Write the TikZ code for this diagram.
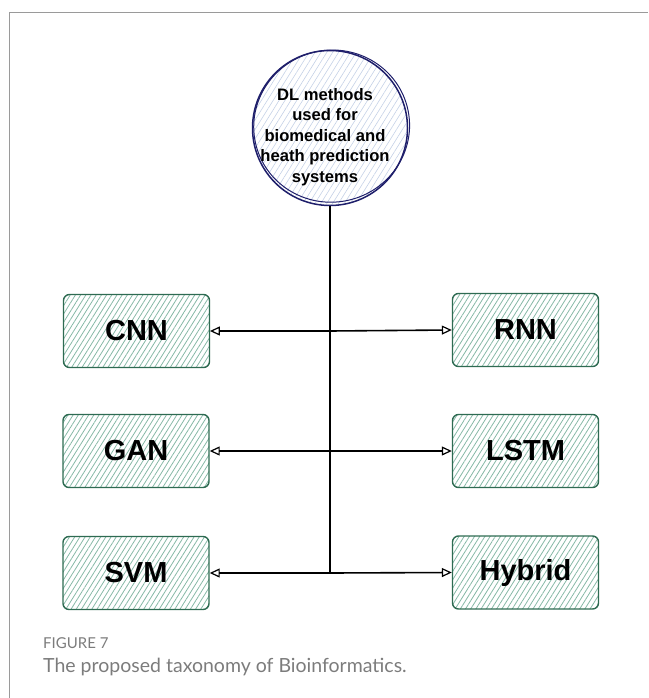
\documentclass[tikz,border=0pt]{standalone}
\usepackage{fontspec}
\setmainfont{Liberation Sans}
\newfontfamily\capfont{Lato}
\usetikzlibrary{arrows.meta,patterns.meta,calc}

\definecolor{boxline}{HTML}{2E6B52}
\definecolor{boxhatch}{HTML}{86B8A6}
\definecolor{rootline}{HTML}{1F1F6B}
\definecolor{roothatch}{HTML}{C4D1E6}
\definecolor{framegray}{HTML}{9A9A9A}
\definecolor{captiongray}{HTML}{7C7C7C}

\tikzset{
  method/.style={
    draw=boxline, line width=1.4pt, rounded corners=6pt,
    minimum width=146pt, minimum height=73pt, inner sep=0pt,
    pattern={Lines[angle=58, distance=4.4pt, line width=0.8pt]},
    pattern color=boxhatch,
    font=\fontsize{29}{32}\selectfont\bfseries
  },
  rootnode/.style={
    circle, draw=rootline, line width=1.5pt, minimum size=155pt, inner sep=0pt,
    pattern={Lines[angle=58, distance=5pt, line width=0.6pt]},
    pattern color=roothatch
  },
  rootlabel/.style={
    align=center, inner sep=0pt,
    font=\fontsize{16.6}{20.4}\selectfont\bfseries
  },
  link/.style={line width=1.6pt, draw=black},
  linkarrow/.style={link, -{Triangle[open, length=10pt, width=9pt, line width=1.2pt]}},
}

\begin{document}
\begin{tikzpicture}[x=1pt, y=-1pt]
  \useasboundingbox (0,0) rectangle (648,698);

  % page frame
  \draw[framegray, line width=1pt] (9.5,698) -- (9.5,12.5) -- (648,12.5);

  % root concept: hatched disc with a second, slightly shifted pen stroke
  \node[rootnode] (root) at (330,128) {};
  \draw[rootline, line width=1pt, rotate around={12:(root.center)}]
    ($(root.center)+(2,-1.5)$) ellipse [x radius=78, y radius=76];
  \node[rootlabel] (roottext) at (325,137) {DL methods\\used for\\biomedical and\\heath prediction\\systems};

  % method boxes
  \node[method] (cnn)    at (136.5,331) {CNN};
  \node[method] (gan)    at (136,451)   {GAN};
  \node[method] (svm)    at (136,573)   {SVM};
  \node[method] (rnn)    at (525.5,330) {RNN};
  \node[method] (lstm)   at (525.5,451) {LSTM};
  \node[method] (hybrid) at (525.5,572.5) {Hybrid};

  % junctions on the trunk
  \coordinate (j1) at (root.south |- cnn.east);
  \coordinate (j2) at (root.south |- gan.east);
  \coordinate (j3) at (root.south |- svm.east);

  % trunk
  \draw[link] (root.south) -- (j3);

  % branches
  \draw[linkarrow] (j1) -- (cnn.east);
  \draw[linkarrow] (j1) -- (rnn.west);
  \draw[linkarrow] (j2) -- (gan.east);
  \draw[linkarrow] (j2) -- (lstm.west);
  \draw[linkarrow] (j3) -- (svm.east);
  \draw[linkarrow] (j3) -- (hybrid.west);

  % caption
  \node[anchor=base west, inner sep=0pt, text=captiongray,
        font=\capfont\fontsize{15}{18}\selectfont] (figlabel) at (43,648) {FIGURE 7};
  \node[anchor=base west, inner sep=0pt, text=captiongray,
        font=\capfont\fontsize{19.5}{23}\selectfont] (figcaption) at (43,672) {The proposed taxonomy of Bioinformatics.};
\end{tikzpicture}
\end{document}
